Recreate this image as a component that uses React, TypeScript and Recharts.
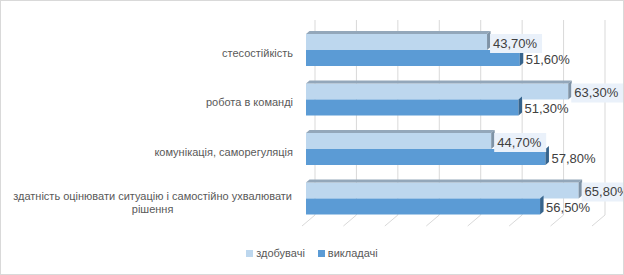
import React from 'react'
import { BarChart, Bar, XAxis, YAxis, CartesianGrid, Legend, LabelList } from 'recharts'

const categories = [
  'стесостійкість',
  'робота в команді',
  'комунікація, саморегуляція',
  'здатність оцінювати ситуацію і самостійно ухвалювати рішення',
]
const students = [43.7, 63.3, 44.7, 65.8]
const teachers = [51.6, 51.3, 57.8, 56.5]
const xTicks = [0, 10, 20, 30, 40, 50, 60, 70]
const seriesNames = ['здобувачі', 'викладачі']
const seriesColors = ['#BDD7EE', '#5B9BD5']

const data = categories.map((c, i) => ({ category: c, students: students[i], teachers: teachers[i] }))

const FONT = '"Liberation Sans", Arial, sans-serif'
const fmt = (v: number) => v.toFixed(2).replace('.', ',') + '%'

function wrap(text: string, maxChars: number) {
  const words = text.split(' ')
  const lines: string[] = []
  let cur = ''
  for (const w of words) {
    const next = cur ? cur + ' ' + w : w
    if (next.length > maxChars && cur) {
      lines.push(cur)
      cur = w
    } else cur = next
  }
  if (cur) lines.push(cur)
  return lines
}

function CategoryTick(props: any) {
  const { x, y, payload } = props
  const lines = wrap(payload.value, 53)
  const right = x - 5
  if (lines.length === 1) {
    return (
      <text x={right} y={y + 7} textAnchor="end" fontSize={11} fill="#595959" fontFamily={FONT}>
        {payload.value}
      </text>
    )
  }
  const longest = Math.max(...lines.map(l => l.length))
  const cx = right - (longest * 5.4) / 2
  return (
    <text textAnchor="middle" fontSize={11} fill="#595959" fontFamily={FONT}>
      {lines.map((l, i) => (
        <tspan key={i} x={cx} y={y + 2 + i * 12.5}>
          {l}
        </tspan>
      ))}
    </text>
  )
}

function make3DBar(front: string, top: string | null, side: string) {
  return (props: any) => {
    const { x, y, width, height } = props
    if (!width || width <= 0) return <g />
    const d = 3.5
    const dy = 3
    return (
      <g>
        <rect x={x} y={y} width={width} height={height} fill={front} />
        {top && (
          <polygon
            points={`${x},${y} ${x + d},${y - dy} ${x + width + d},${y - dy} ${x + width},${y}`}
            fill={top}
          />
        )}
        <polygon
          points={`${x + width},${y} ${x + width + d},${y - dy} ${x + width + d},${y + height - dy} ${x + width},${y + height}`}
          fill={side}
        />
      </g>
    )
  }
}

const LightBar = make3DBar('#BDD7EE', '#93a7ba', '#7f93a6')
const DarkBar = make3DBar('#5B9BD5', null, '#36648d')

function makeLabel(boxed: boolean) {
  return (props: any) => {
    const { x, y, width, height, value } = props
    const end = x + width
    return (
      <g>
        {boxed && <rect x={end + 3} y={y} width={52} height={height + 3} fill="#eaf1fa" />}
        <text x={end + 6} y={y + height / 2 + 5.5} fontSize={13} fill="#404040" fontFamily={FONT}>
          {fmt(value)}
        </text>
      </g>
    )
  }
}

function GridLine(props: any) {
  const { x1, y1, y2 } = props
  const bx = x1 + 9
  return (
    <g key={props.key}>
      <line x1={bx} y1={y1 - 5} x2={bx} y2={y2 - 8} stroke="#d9d9d9" strokeWidth={1} />
      <line x1={bx} y1={y2 - 8} x2={x1 - 4} y2={y2 + 3} stroke="#d9d9d9" strokeWidth={1} />
    </g>
  )
}

function LegendContent() {
  return (
    <div style={{ display: 'flex', justifyContent: 'center', fontSize: 11, fontFamily: FONT, color: '#595959' }}>
      {seriesNames.map((n, i) => (
        <span key={n} style={{ display: 'flex', alignItems: 'center', marginRight: i === 0 ? 13 : 0 }}>
          <span style={{ width: 7, height: 7, background: seriesColors[i], marginRight: 3, display: 'inline-block' }} />
          {n}
        </span>
      ))}
    </div>
  )
}

export default function App() {
  return (
    <div
      style={{
        position: 'absolute',
        left: 0,
        top: 0,
        width: 624,
        height: 275,
        boxSizing: 'border-box',
        border: '1px solid #d9d9d9',
        background: '#fff',
      }}
    >
      <BarChart
        width={622}
        height={273}
        data={data}
        layout="vertical"
        margin={{ top: 24, right: 27, bottom: 51, left: 0 }}
        barGap={0}
        barSize={16}
      >
        <CartesianGrid horizontal={false} vertical={GridLine} />
        <XAxis type="number" domain={[0, 70]} ticks={xTicks} hide />
        <YAxis
          type="category"
          dataKey="category"
          width={305}
          axisLine={false}
          tickLine={false}
          tick={CategoryTick}
          interval={0}
        />
        <Legend
          layout="horizontal"
          verticalAlign="middle"
          align="center"
          content={LegendContent}
          wrapperStyle={{ top: 246, left: 0, width: 622 }}
        />
        <Bar dataKey="students" name="здобувачі" fill="#BDD7EE" shape={LightBar} isAnimationActive={false}>
          <LabelList dataKey="students" content={makeLabel(true)} />
        </Bar>
        <Bar dataKey="teachers" name="викладачі" fill="#5B9BD5" shape={DarkBar} isAnimationActive={false}>
          <LabelList dataKey="teachers" content={makeLabel(false)} />
        </Bar>
      </BarChart>
    </div>
  )
}
